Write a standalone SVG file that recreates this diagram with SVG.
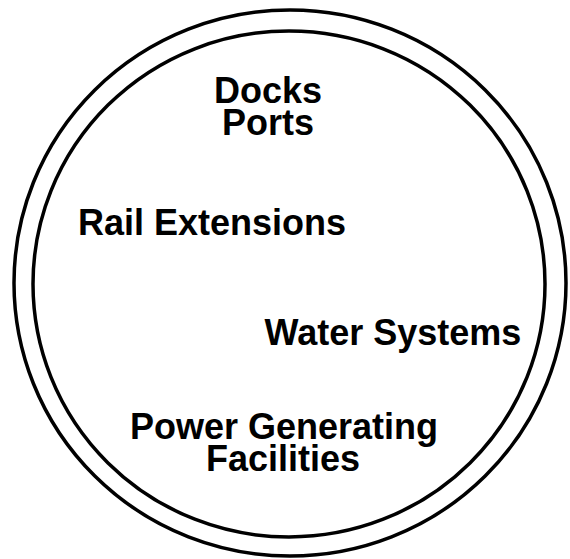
<svg xmlns="http://www.w3.org/2000/svg" width="570" height="559" viewBox="0 0 570 559">
  <style>
    .ring { fill: none; stroke: #000; stroke-width: 3.5; }
    .label { font-family: "Liberation Sans", Arial, Helvetica, sans-serif; font-weight: bold; font-size: 36px; fill: #000; text-anchor: middle; }
  </style>
  <rect width="570" height="559" fill="#fff"/>
  <g id="rings">
    <ellipse class="ring" cx="290" cy="283" rx="276" ry="273"/>
    <ellipse class="ring" cx="289" cy="284" rx="256" ry="253"/>
  </g>
  <g id="docks-ports">
    <text class="label" x="268" y="103">Docks</text>
    <text class="label" x="268" y="135">Ports</text>
  </g>
  <g id="rail-extensions">
    <text class="label" x="212" y="235">Rail Extensions</text>
  </g>
  <g id="water-systems">
    <text class="label" x="393" y="345">Water Systems</text>
  </g>
  <g id="power-generating">
    <text class="label" x="284" y="439">Power Generating</text>
    <text class="label" x="283" y="471">Facilities</text>
  </g>
</svg>
